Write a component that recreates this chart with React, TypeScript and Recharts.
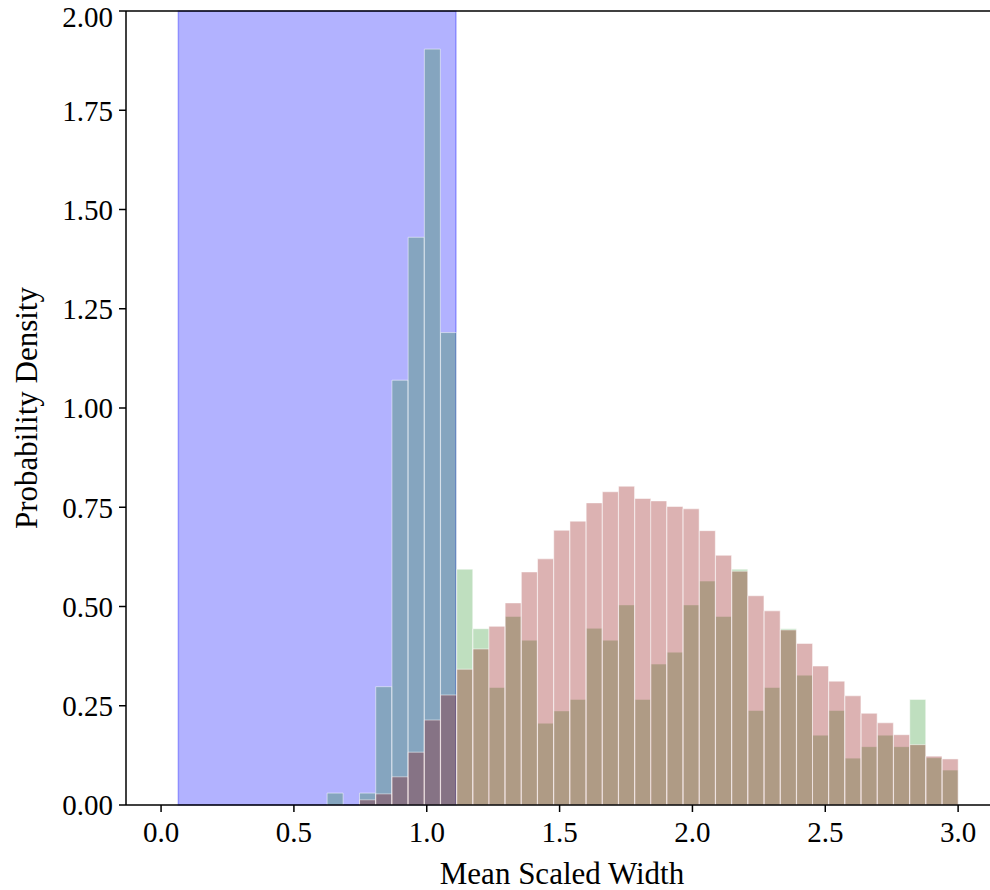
import { ComposedChart, Bar, XAxis, YAxis, ReferenceArea, ReferenceLine, Label } from 'recharts';

// histogram bin centres (shared by both series)
const binCenters = [
  0.655, 0.716, 0.777, 0.838, 0.899, 0.96, 1.021, 1.082, 1.143, 1.204,
  1.264, 1.325, 1.386, 1.447, 1.508, 1.569, 1.63, 1.691, 1.752, 1.813,
  1.873, 1.934, 1.995, 2.056, 2.117, 2.178, 2.239, 2.3, 2.361, 2.422,
  2.482, 2.543, 2.604, 2.665, 2.726, 2.787, 2.848, 2.909, 2.97,
];

const greenDensity = [
  0.03, 0, 0.03, 0.298, 1.07, 1.43, 1.904, 1.19, 0.594, 0.444,
  0.296, 0.475, 0.415, 0.206, 0.237, 0.266, 0.445, 0.415, 0.504, 0.266,
  0.355, 0.385, 0.504, 0.564, 0.475, 0.594, 0.238, 0.296, 0.444, 0.327,
  0.176, 0.238, 0.118, 0.147, 0.176, 0.147, 0.266, 0.119, 0.088,
];

const redDensity = [
  0, 0, 0.013, 0.028, 0.071, 0.133, 0.214, 0.277, 0.342, 0.393,
  0.45, 0.509, 0.587, 0.62, 0.692, 0.715, 0.761, 0.789, 0.803, 0.772,
  0.766, 0.752, 0.746, 0.691, 0.629, 0.589, 0.527, 0.489, 0.441, 0.407,
  0.35, 0.312, 0.275, 0.231, 0.207, 0.177, 0.152, 0.123, 0.116,
];

const xTicks = [0, 0.5, 1, 1.5, 2, 2.5, 3];
const yTicks = [0, 0.25, 0.5, 0.75, 1, 1.25, 1.5, 1.75, 2];
const spanStart = 0.065;
const spanEnd = 1.11;

const xDomain = [-0.132, 3.12];
const font = '"Liberation Serif", "Times New Roman", serif';

const data = binCenters.map((x, i) => ({ x, green: greenDensity[i], red: redDensity[i] }));

export default function App() {
  return (
    <div style={{ position: 'absolute', left: 0, top: 0, width: 990, height: 890, background: '#fff' }}>
      <ComposedChart
        width={990}
        height={890}
        data={data}
        margin={{ top: 11, right: 0, left: 0, bottom: 0 }}
        barCategoryGap={0}
        barGap={0}
      >
        <XAxis
          xAxisId="main"
          dataKey="x"
          type="number"
          domain={xDomain}
          allowDataOverflow
          ticks={xTicks}
          tickFormatter={(v: number) => v.toFixed(1)}
          height={85}
          tickSize={7}
          tickMargin={9}
          axisLine={{ stroke: '#000', strokeWidth: 1.5 }}
          tickLine={{ stroke: '#000', strokeWidth: 1.5 }}
          tick={{ fill: '#000', fontSize: 29, fontFamily: font }}
        >
          <Label
            value="Mean Scaled Width"
            position="insideBottom"
            offset={6}
            dx={4}
            style={{ fill: '#000', fontSize: 31, fontFamily: font }}
          />
        </XAxis>
        <XAxis xAxisId="over" dataKey="x" type="number" domain={xDomain} allowDataOverflow hide />
        <YAxis
          type="number"
          domain={[0, 2]}
          ticks={yTicks}
          tickFormatter={(v: number) => v.toFixed(2)}
          width={126}
          tickSize={7}
          tickMargin={6}
          axisLine={{ stroke: '#000', strokeWidth: 1.5 }}
          tickLine={{ stroke: '#000', strokeWidth: 1.5 }}
          tick={{ fill: '#000', fontSize: 29, fontFamily: font }}
        >
          <Label
            value="Probability Density"
            angle={-90}
            position="insideLeft"
            offset={26}
            style={{ fill: '#000', fontSize: 31, fontFamily: font, textAnchor: 'middle' }}
          />
        </YAxis>
        <ReferenceArea
          xAxisId="main"
          x1={spanStart}
          x2={spanEnd}
          y1={0}
          y2={2}
          fill="#0000ff"
          fillOpacity={0.3}
          stroke="#0000ff"
          strokeOpacity={0.3}
          strokeWidth={1.5}
        />
        <Bar
          xAxisId="main"
          dataKey="green"
          fill="#008000"
          fillOpacity={0.25}
          stroke="#ffffff"
          strokeOpacity={0.5}
          strokeWidth={1}
          isAnimationActive={false}
        />
        <Bar
          xAxisId="over"
          dataKey="red"
          fill="#8b0000"
          fillOpacity={0.3}
          stroke="#ffffff"
          strokeOpacity={0.5}
          strokeWidth={1}
          isAnimationActive={false}
        />
        <ReferenceLine xAxisId="main" y={2} stroke="#000" strokeWidth={1.5} />
      </ComposedChart>
    </div>
  );
}
